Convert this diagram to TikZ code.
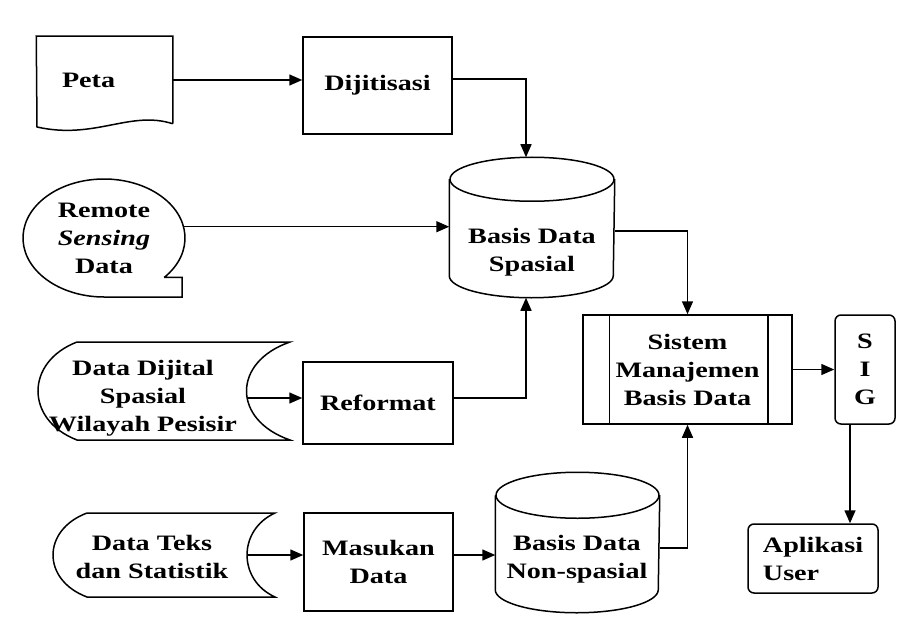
\documentclass[tikz,border=0pt]{standalone}
\usepackage{fontspec}
\setmainfont{Liberation Serif}[FakeStretch=1.28]
\usepackage{tikz}
\usetikzlibrary{positioning, arrows.meta, shapes.geometric, calc}

\tikzset{
    every node/.style={font=\fontsize{22}{28}\selectfont\bfseries, align=center, inner sep=0pt},
    box/.style={draw, rectangle, minimum width=149, minimum height=97},
    rbox/.style={draw, rectangle, rounded corners=6pt},
    >={Triangle[length=13pt,width=11pt]}
}

\begin{document}
\begin{tikzpicture}[x=1pt, y=1pt, line width=1.5pt]
    \useasboundingbox (0,0) rectangle (901,633);

    % Define nodes
    \node[rectangle, minimum width=135, minimum height=86, text width=85, align=left] (peta) at (104.5,553) {Peta};
    \node[box] (dijit) at (377.5,547.5) {Dijitisasi};
    \node[ellipse, minimum width=162, minimum height=118] (rs) at (104,395) {Remote\\\textit{Sensing}\\Data};
    \node[rectangle, minimum width=164, minimum height=139] (bds) at (532,405.5) {};
    \node (bdstxt) at (532,381) {Basis Data\\Spasial};
    \node (dds) at (143,235) {Data Dijital\\Spasial\\Wilayah Pesisir};
    \coordinate (ddsout) at (247,235);
    \node[box, minimum width=150, minimum height=82] (ref) at (378,230) {Reformat};
    \node (dts) at (152,76) {Data Teks\\dan Statistik};
    \coordinate (dtsout) at (247,78);
    \node[box, minimum height=98] (mas) at (378.5,71) {Masukan\\Data};
    \node[rectangle, minimum width=163, minimum height=139] (bdn) at (577.5,90.5) {};
    \node (bdntxt) at (577,74) {Basis Data\\Non-spasial};
    \node[box, minimum width=209, minimum height=109] (smbd) at (687.5,263.5) {Sistem\\Manajemen\\Basis Data};
    \node[rbox, minimum width=60, minimum height=109] (sig) at (865,263.5) {S\\I\\G};
    \node[rbox, minimum width=130, minimum height=69, align=left] (apl) at (813,74.5) {Aplikasi\\User};

    % Draw shapes
    \draw (peta.south east) |- (peta.north west) -- (37,506)
        .. controls (95,493) and (130,523) .. (peta.south east);
    \draw ($(rs.center)+(-42:81 and 59)$) arc[start angle=-42, end angle=270, x radius=81, y radius=59]
        -- ++(78,0) |- ($(rs.center)+(-42:81 and 59)$);
    \draw ([yshift=-22]bds.north) ellipse[x radius=82, y radius=22];
    \draw ([yshift=-22]bds.north west) -- ([yshift=22]bds.south west)
        arc[start angle=180, end angle=360, x radius=82, y radius=22] -- ([yshift=-22]bds.north east);
    \draw ([yshift=-23]bdn.north) ellipse[x radius=81.5, y radius=23];
    \draw ([yshift=-23]bdn.north west) -- ([yshift=23]bdn.south west)
        arc[start angle=180, end angle=360, x radius=81.5, y radius=23] -- ([yshift=-23]bdn.north east);
    \draw (77,291) -- (290,291) .. controls (232,271) and (232,213) .. (290,193)
        -- (77,193) .. controls (25,213) and (25,271) .. (77,291);
    \draw (87,120) -- (275,120) .. controls (237.7,103) and (237.7,53) .. (275,36)
        -- (87,36) .. controls (41.7,53) and (41.7,103) .. (87,120);
    \draw ([xshift=27]smbd.north west) -- ([xshift=27]smbd.south west);
    \draw ([xshift=-25]smbd.north east) -- ([xshift=-25]smbd.south east);

    % Draw arrows
    \draw[->] (peta.east) -- (peta.east -| dijit.west);
    \draw[->] ([yshift=6.5]dijit.east) -| ([xshift=-6]bds.north);
    \draw[->] (rs.8) -- (rs.8 -| bds.west);
    \draw[->] (ddsout) -- (ddsout -| ref.west);
    \draw[->] (ddsout -| ref.east) -| ([xshift=-6]bds.south);
    \draw[->] (dtsout) -- (dtsout -| mas.west);
    \draw[->] (dtsout -| mas.east) -- (dtsout -| bdn.west);
    \draw[->] ([yshift=-3.5]bds.east) -| (smbd.north);
    \draw[->] ([yshift=-5.5]bdn.east) -| (smbd.south);
    \draw[->] (smbd.east) -- (sig.west);
    \draw[->] ([xshift=-15]sig.south) -- ([xshift=-15]sig.south |- apl.north);
\end{tikzpicture}
\end{document}
